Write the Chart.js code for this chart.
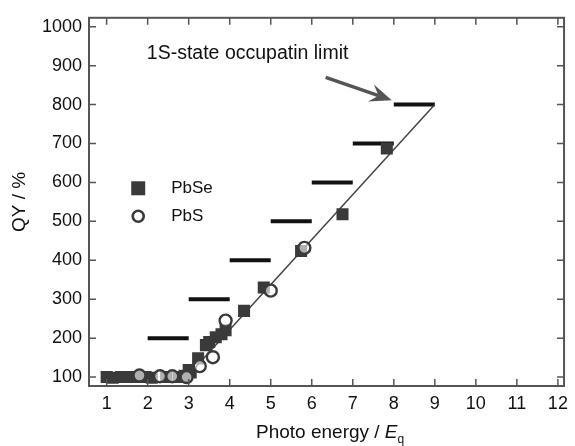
<!DOCTYPE html>
<html>
<head>
<meta charset="utf-8">
<script src="https://cdn.jsdelivr.net/npm/chart.js@4.4.1/dist/chart.umd.min.js"></script>
<style>
  html, body { margin: 0; padding: 0; background: #fff; }
  #wrap { width: 575px; height: 446px; }
</style>
</head>
<body>
<div id="wrap"><canvas id="qyChart" width="575" height="446"></canvas></div>
<script>
// data
const pbseX = [1.0, 1.15, 1.35, 1.5, 1.65, 1.8, 1.95, 2.1, 2.45, 2.75, 2.9, 3.0, 3.05, 3.23, 3.42, 3.5, 3.66, 3.8, 3.9, 4.35, 4.83, 5.74, 6.75, 7.83];
const pbseY = [100, 98, 100, 100, 100, 100, 100, 98, 100, 100, 103, 118, 112, 148, 182, 190, 202, 210, 220, 270, 330, 424, 518, 687];
const pbsX = [1.8, 2.3, 2.6, 2.95, 3.27, 3.59, 3.9, 5.0, 5.82];
const pbsY = [104, 102, 102, 100, 128, 151, 245, 322, 432];

// 1S-state occupation limit steps (n*100 % from n to n+1 Eg)
const limitN = [1, 2, 3, 4, 5, 6, 7, 8];
const limitY = [100, 200, 300, 400, 500, 600, 700, 800];

// fitted line
const fitX = [2.95, 9.0];
const fitY = [100, 800];

const xTicks = [1, 2, 3, 4, 5, 6, 7, 8, 9, 10, 11, 12];
const yTicks = [100, 200, 300, 400, 500, 600, 700, 800, 900, 1000];

const annoText = "1S-state occupatin limit";
const annoPos = [1.98, 930];
const arrowFrom = [6.34, 870];
const arrowTo = [7.95, 811];
const legendItems = [
  { label: "PbSe", x: 1.77, y: 585, kind: "square" },
  { label: "PbS", x: 1.77, y: 513, kind: "circle" },
];

const FONT = '"Liberation Sans", Arial, sans-serif';
const INK = "#3a3a3a";

const toPts = (xs, ys) => xs.map((x, i) => ({ x: x, y: ys[i] }));

const datasets = [];
limitN.forEach((n, i) => {
  datasets.push({
    type: "line",
    data: [{ x: n, y: limitY[i] }, { x: n + 1, y: limitY[i] }],
    borderColor: "#111",
    borderWidth: 4,
    pointRadius: 0,
    order: 3,
  });
});
datasets.push({
  type: "line",
  data: toPts(fitX, fitY),
  borderColor: "#444",
  borderWidth: 1.5,
  pointRadius: 0,
  order: 2,
});
datasets.push({
  label: "PbSe",
  type: "scatter",
  data: toPts(pbseX, pbseY),
  pointStyle: "rect",
  pointRadius: 8.5,
  backgroundColor: INK,
  borderColor: INK,
  borderWidth: 0,
  order: 1,
});
datasets.push({
  label: "PbS",
  type: "scatter",
  data: toPts(pbsX, pbsY),
  pointStyle: "circle",
  pointRadius: 6,
  backgroundColor: "rgba(255,255,255,0.6)",
  borderColor: INK,
  borderWidth: 2.4,
  order: 0,
});

const decorations = {
  id: "decorations",
  afterDraw(chart) {
    const c = chart.ctx;
    const a = chart.chartArea;
    const sx = chart.scales.x;
    const sy = chart.scales.y;
    c.save();

    // frame
    c.strokeStyle = "#555";
    c.lineWidth = 2;
    c.strokeRect(a.left, a.top, a.right - a.left, a.bottom - a.top);

    // inward ticks on all sides
    c.lineWidth = 1.5;
    c.beginPath();
    xTicks.forEach((v) => {
      const px = sx.getPixelForValue(v);
      c.moveTo(px, a.bottom); c.lineTo(px, a.bottom - 7);
      c.moveTo(px, a.top); c.lineTo(px, a.top + 7);
    });
    yTicks.forEach((v) => {
      const py = sy.getPixelForValue(v);
      c.moveTo(a.left, py); c.lineTo(a.left + 7, py);
      c.moveTo(a.right, py); c.lineTo(a.right - 7, py);
    });
    c.stroke();

    // annotation text
    c.fillStyle = "#111";
    c.font = "19.5px " + FONT;
    c.textAlign = "left";
    c.textBaseline = "middle";
    c.fillText(annoText, sx.getPixelForValue(annoPos[0]), sy.getPixelForValue(annoPos[1]));

    // arrow
    const x0 = sx.getPixelForValue(arrowFrom[0]), y0 = sy.getPixelForValue(arrowFrom[1]);
    const x1 = sx.getPixelForValue(arrowTo[0]), y1 = sy.getPixelForValue(arrowTo[1]);
    const ang = Math.atan2(y1 - y0, x1 - x0);
    const cs = Math.cos(ang), sn = Math.sin(ang);
    c.strokeStyle = "#555";
    c.fillStyle = "#555";
    c.lineWidth = 3.5;
    c.beginPath();
    c.moveTo(x0, y0);
    c.lineTo(x1 - 14 * cs, y1 - 14 * sn);
    c.stroke();
    c.beginPath();
    c.moveTo(x1, y1);
    c.lineTo(x1 - 22 * cs + 9 * sn, y1 - 22 * sn - 9 * cs);
    c.lineTo(x1 - 14 * cs, y1 - 14 * sn);
    c.lineTo(x1 - 22 * cs - 9 * sn, y1 - 22 * sn + 9 * cs);
    c.closePath();
    c.fill();

    // legend
    c.font = "17px " + FONT;
    legendItems.forEach((it) => {
      const px = sx.getPixelForValue(it.x), py = sy.getPixelForValue(it.y);
      if (it.kind === "square") {
        c.fillStyle = INK;
        c.fillRect(px - 7, py - 7, 14, 14);
      } else {
        c.strokeStyle = INK;
        c.lineWidth = 2.6;
        c.beginPath();
        c.arc(px, py, 5.5, 0, Math.PI * 2);
        c.stroke();
      }
      c.fillStyle = "#111";
      c.fillText(it.label, px + 33, py);
    });

    // axis titles
    c.fillStyle = "#111";
    c.font = "19px " + FONT;
    c.save();
    c.translate(20, (a.top + a.bottom) / 2);
    c.rotate(-Math.PI / 2);
    c.textAlign = "center";
    c.fillText("QY / %", 0, 0);
    c.restore();

    c.textAlign = "left";
    c.textBaseline = "alphabetic";
    const tx = 256, ty = 438;
    const part = "Photo energy / ";
    c.fillText(part, tx, ty);
    let w = c.measureText(part).width;
    c.font = "italic 19px " + FONT;
    c.fillText("E", tx + w, ty);
    w += c.measureText("E").width;
    c.font = "12px " + FONT;
    c.fillText("q", tx + w, ty + 5);

    c.restore();
  },
};

new Chart(document.getElementById("qyChart"), {
  type: "scatter",
  data: { datasets: datasets },
  plugins: [decorations],
  options: {
    responsive: false,
    animation: false,
    layout: { padding: { left: 0, right: 3, top: 15, bottom: 0 } },
    plugins: {
      legend: { display: false },
      tooltip: { enabled: false },
    },
    scales: {
      x: {
        type: "linear",
        min: 0.57,
        max: 12.15,
        grid: { display: false, drawTicks: false },
        border: { display: false },
        afterBuildTicks: (s) => { s.ticks = xTicks.map((v) => ({ value: v })); },
        afterFit: (s) => { s.height = 60; },
        ticks: { color: "#111", padding: 7, font: { size: 18, family: FONT }, callback: (v) => String(v) },
      },
      y: {
        type: "linear",
        min: 77,
        max: 1023,
        grid: { display: false, drawTicks: false },
        border: { display: false },
        afterBuildTicks: (s) => { s.ticks = yTicks.map((v) => ({ value: v })); },
        afterFit: (s) => { s.width = 89; },
        ticks: { color: "#111", padding: 7, font: { size: 18, family: FONT }, callback: (v) => String(v) },
      },
    },
  },
});
</script>
</body>
</html>
